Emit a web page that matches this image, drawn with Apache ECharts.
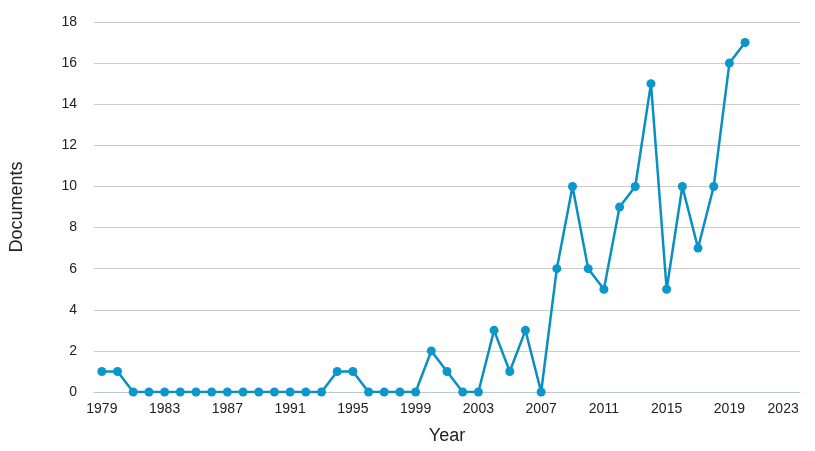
<!DOCTYPE html>
<html><head><meta charset="utf-8">
<script src="https://cdn.jsdelivr.net/npm/echarts@6/dist/echarts.min.js"></script>
<style>html,body{margin:0;padding:0;background:#fff}#c{width:815px;height:451px}</style>
</head><body><div id="c"></div>
<script>
const years = [];
for (let y = 1979; y <= 2023; y++) years.push(String(y));
const docs = [1,1,0,0,0,0,0,0,0,0,0,0,0,0,0,1,1,0,0,0,0,2,1,0,0,3,1,3,0,6,10,6,5,9,10,15,5,10,7,10,16,17,null,null,null];
const yMin = 0, yMax = 18, yStep = 2;

const chart = echarts.init(document.getElementById('c'));
chart.setOption({
  animation: false,
  grid: {left: 93, right: 15, top: 22, bottom: 59},
  xAxis: {
    type: 'category', data: years, boundaryGap: true,
    name: 'Year', nameLocation: 'middle', nameGap: 35,
    nameTextStyle: {fontFamily: 'Arial, Liberation Sans', fontSize: 18, color: '#222'},
    axisLine: {lineStyle: {color: '#b8c8da', width: 1}},
    axisTick: {show: false},
    axisLabel: {
      interval: 3, margin: 10, fontFamily: 'Arial, Liberation Sans', fontSize: 14, color: '#222',
      formatter: function (v) { return v === '2023' ? '{r|' + v + '}' : v; },
      rich: {r: {fontFamily: 'Arial, Liberation Sans', fontSize: 14, color: '#222', padding: [0, 18, 0, 0]}}
    }
  },
  yAxis: {
    type: 'value', min: yMin, max: yMax, interval: yStep,
    name: 'Documents', nameLocation: 'middle', nameGap: 68,
    nameTextStyle: {fontFamily: 'Arial, Liberation Sans', fontSize: 18, color: '#222'},
    axisLine: {show: false}, axisTick: {show: false},
    axisLabel: {margin: 17, fontFamily: 'Arial, Liberation Sans', fontSize: 14, color: '#222'},
    splitLine: {lineStyle: {color: '#cccccc', width: 1}}
  },
  series: [{
    type: 'line', data: docs, connectNulls: false,
    symbol: 'circle', symbolSize: 9, showAllSymbol: true,
    lineStyle: {color: '#0a8fc2', width: 2.5},
    itemStyle: {color: '#0a97cc'}
  }]
});
</script></body></html>
